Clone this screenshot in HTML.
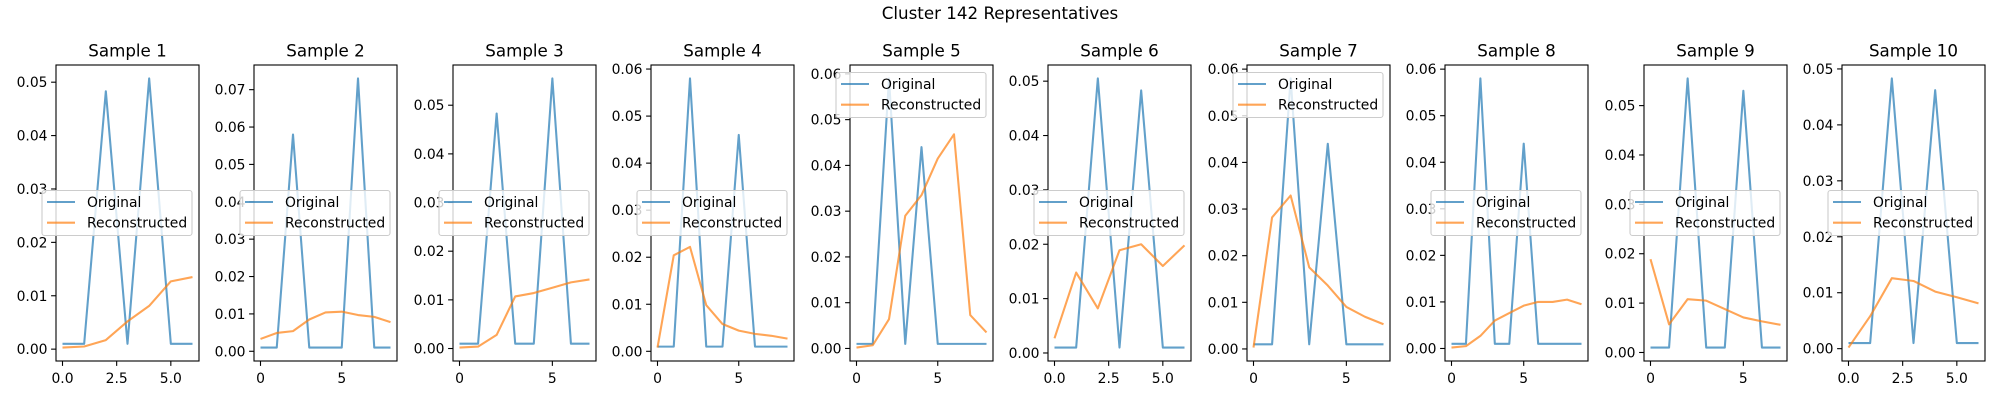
<!DOCTYPE html>
<html><head><meta charset="utf-8">
<style>
html,body{margin:0;padding:0;background:#fff;}
svg{display:block;font-family:"DejaVu Sans","Liberation Sans",sans-serif;}
</style></head>
<body>
<svg id="fig" width="2000" height="400" viewBox="0 0 2000 400" xmlns="http://www.w3.org/2000/svg">
<rect width="2000" height="400" fill="#fff"/>
<text x="1000" y="19" font-size="16.7" text-anchor="middle" fill="#000">Cluster 142 Representatives</text>
</svg>
<script>
const sampleTitles = ["Sample 1","Sample 2","Sample 3","Sample 4","Sample 5","Sample 6","Sample 7","Sample 8","Sample 9","Sample 10"];
const original1 = [0.001,0.001,0.0483,0.001,0.0507,0.001,0.001];
const recon1 = [0.0003,0.0005,0.0017,0.0052,0.0081,0.0127,0.0135];
const original2 = [0.001,0.001,0.058,0.001,0.001,0.001,0.073,0.001,0.001];
const recon2 = [0.0033,0.0049,0.0054,0.0085,0.0104,0.0106,0.0097,0.0092,0.0078];
const original3 = [0.001,0.001,0.0483,0.001,0.001,0.0555,0.001,0.001];
const recon3 = [0.0002,0.0004,0.0028,0.0107,0.0114,0.0125,0.0136,0.0142];
const original4 = [0.001,0.001,0.058,0.001,0.001,0.046,0.001,0.001,0.001];
const recon4 = [0.0008,0.0204,0.0222,0.0098,0.0058,0.0044,0.0037,0.0033,0.0027];
const original5 = [0.001,0.001,0.059,0.001,0.044,0.001,0.001,0.001,0.001];
const recon5 = [0.0002,0.0007,0.0064,0.029,0.0335,0.0415,0.0468,0.0073,0.0035];
const original6 = [0.001,0.001,0.0505,0.001,0.0483,0.001,0.001];
const recon6 = [0.0027,0.0148,0.0082,0.0189,0.02,0.016,0.0198];
const original7 = [0.001,0.001,0.058,0.001,0.044,0.001,0.001,0.001];
const recon7 = [0.0003,0.0282,0.0329,0.0175,0.0136,0.009,0.0069,0.0053];
const original8 = [0.001,0.001,0.058,0.001,0.001,0.044,0.001,0.001,0.001,0.001];
const recon8 = [0.0002,0.0005,0.0027,0.006,0.0076,0.0092,0.01,0.01,0.0105,0.0095];
const original9 = [0.001,0.001,0.0555,0.001,0.001,0.053,0.001,0.001];
const recon9 = [0.0189,0.0057,0.0108,0.0105,0.0088,0.0071,0.0063,0.0056];
const original10 = [0.001,0.001,0.0483,0.001,0.0462,0.001,0.001];
const recon10 = [0.0002,0.0058,0.0126,0.0121,0.0102,0.0092,0.0081];
const originalSeries = [original1,original2,original3,original4,original5,original6,original7,original8,original9,original10];
const reconSeries = [recon1,recon2,recon3,recon4,recon5,recon6,recon7,recon8,recon9,recon10];
const legendLoc = ["center","center","center","center","upper","center","upper","center","center","center"];

const NS = "http://www.w3.org/2000/svg";
const svg = document.getElementById("fig");
function mk(tag, attrs, parent){
  const e = document.createElementNS(NS, tag);
  for (const k in attrs) e.setAttribute(k, attrs[k]);
  (parent||svg).appendChild(e);
  return e;
}
const AX_TOP = 65, AX_BOT = 361, AX_W = 143;
const axLefts = [56,254,453,651,850,1048,1247,1445,1644,1842];

sampleTitles.forEach((title, i) => {
  const orig = originalSeries[i], rec = reconSeries[i];
  const n = Math.max(orig.length, rec.length);
  const L = axLefts[i], R = L + AX_W;
  const g = mk("g", {});
  
  
  const all = orig.concat(rec);
  const dmin = Math.min(...all), dmax = Math.max(...all);
  const ymin = dmin - 0.05*(dmax-dmin), ymax = dmax + 0.05*(dmax-dmin);
  const xmin = -0.05*(n-1), xmax = (n-1)*1.05;
  const sx = v => L + (v - xmin)/(xmax - xmin)*AX_W;
  const sy = v => AX_BOT - (v - ymin)/(ymax - ymin)*(AX_BOT - AX_TOP);

  // title
  const t = mk("text", {x:(L+R)/2, y:AX_TOP-8.5, "font-size":16.7, "text-anchor":"middle", fill:"#000"}, g);
  t.textContent = title;
  
  

  // y ticks
  for (let k = Math.ceil(ymin/0.01 - 1e-9); k*0.01 <= ymax + 1e-12; k++) {
    const v = k*0.01, y = sy(v);
    const tk = mk("line", {x1:L-4.9, x2:L, y1:y, y2:y, stroke:"#000", "stroke-width":1.1}, g);
    
    
    const lb = mk("text", {x:L-8.5, y:y+5, "font-size":13.9, "text-anchor":"end", fill:"#000"}, g);
    lb.textContent = v.toFixed(2);
    
    
  }
  // x ticks
  const step = (n-1) <= 6 ? 2.5 : 5;
  for (let v = 0; v <= xmax + 1e-9; v += step) {
    const x = sx(v);
    const tk = mk("line", {x1:x, x2:x, y1:AX_BOT, y2:AX_BOT+4.9, stroke:"#000", "stroke-width":1.1}, g);
    
    
    const lb = mk("text", {x:x, y:AX_BOT+22, "font-size":13.9, "text-anchor":"middle", fill:"#000"}, g);
    lb.textContent = step === 2.5 ? v.toFixed(1) : String(v);
    
    
  }
  // series
  const clipId = "clip" + i;
  const cp = mk("clipPath", {id: clipId}, g);
  mk("rect", {x:L, y:AX_TOP, width:AX_W, height:AX_BOT-AX_TOP}, cp);
  const p1 = mk("polyline", {points: orig.map((v,j)=>sx(j)+","+sy(v)).join(" "), fill:"none", stroke:"#1f77b4", "stroke-opacity":0.7, "stroke-width":2.08, "stroke-linejoin":"round", "clip-path":"url(#"+clipId+")"}, g);
  
  
  const p2 = mk("polyline", {points: rec.map((v,j)=>sx(j)+","+sy(v)).join(" "), fill:"none", stroke:"#ff7f0e", "stroke-opacity":0.7, "stroke-width":2.08, "stroke-linejoin":"round", "clip-path":"url(#"+clipId+")"}, g);
  
  
  // frame
  const fr = mk("rect", {x:L, y:AX_TOP, width:AX_W, height:AX_BOT-AX_TOP, fill:"none", stroke:"#000", "stroke-width":1.1}, g);
  
  
  // legend
  const lw = 150, lh = 45;
  const lx = L - 14;
  const ly = legendLoc[i] === "upper" ? AX_TOP + 7.5 : (AX_TOP + AX_BOT)/2 - lh/2;
  const lg = mk("g", {}, g);
  
  
  mk("rect", {x:lx, y:ly, width:lw, height:lh, rx:2.5, fill:"#fff", "fill-opacity":0.8, stroke:"#cccccc", "stroke-width":1.1}, lg);
  const entries = [["Original","#1f77b4"],["Reconstructed","#ff7f0e"]];
  entries.forEach((en, k) => {
    const ey = ly + 11.5 + k*20.7;
    const hl = mk("line", {x1:lx+5, x2:lx+33, y1:ey, y2:ey, stroke:en[1], "stroke-opacity":0.7, "stroke-width":2.08}, lg);
    
    
    const tx = mk("text", {x:lx+45, y:ey+5, "font-size":13.9, fill:"#000"}, lg);
    tx.textContent = en[0];
    
    
  });
});
</script>
</body></html>
